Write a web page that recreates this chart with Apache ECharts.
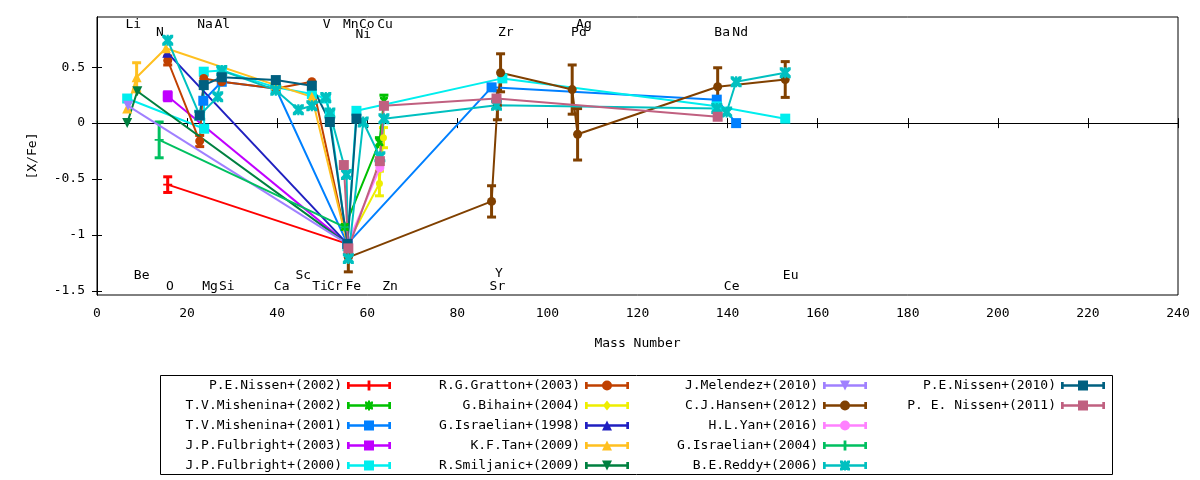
<!DOCTYPE html>
<html>
<head>
<meta charset="utf-8">
<title>[X/Fe] vs Mass Number</title>
<script src="https://cdn.jsdelivr.net/npm/echarts@6/dist/echarts.min.js"></script>
<style>
  html, body { margin: 0; padding: 0; background: #fff; }
  #chart { width: 1200px; height: 480px; }
</style>
</head>
<body>
<div id="chart"></div>
<script>
// each point: [mass number, [X/Fe], error]
const nissen2002 = [[15.7, -0.55, 0.07], [55.6, -1.08, 0]];
const mishenina2002 = [[55.0, -0.93, 0], [62.7, -0.17, 0.04], [63.7, 0.20, 0.05]];
const mishenina2001 = [[23.6, 0.20, 0], [27.7, 0.37, 0], [39.7, 0.31, 0], [55.6, -1.08, 0], [87.6, 0.32, 0], [137.6, 0.21, 0], [141.9, 0.00, 0]];
const fulbright2003 = [[15.7, 0.24, 0.04], [55.6, -1.08, 0]];
const fulbright2000 = [[6.7, 0.22, 0], [23.8, -0.05, 0], [23.7, 0.46, 0], [27.7, 0.47, 0], [39.7, 0.32, 0], [47.7, 0.26, 0], [50.8, 0.22, 0], [51.7, 0.07, 0], [55.6, -1.10, 0], [57.6, 0.11, 0], [90.0, 0.40, 0], [137.6, 0.15, 0], [152.8, 0.04, 0]];
const gratton2003 = [[15.7, 0.56, 0.04], [22.8, -0.16, 0.05], [23.7, 0.40, 0.03], [27.7, 0.37, 0], [39.7, 0.31, 0], [47.7, 0.37, 0], [55.6, -1.08, 0]];
const bihain2004 = [[55.6, -1.08, 0], [62.7, -0.54, 0.11], [63.6, -0.13, 0.09]];
const israelian1998 = [[15.6, 0.63, 0], [55.6, -1.08, 0]];
const tan2009 = [[6.7, 0.13, 0], [8.8, 0.41, 0.13], [15.3, 0.67, 0], [39.7, 0.34, 0], [47.7, 0.235, 0], [55.6, -1.08, 0]];
const smiljanic2009 = [[6.7, 0.00, 0], [8.95, 0.285, 0], [55.6, -1.08, 0]];
const melendez2010 = [[6.9, 0.155, 0], [55.6, -1.08, 0]];
const hansen2012 = [[55.8, -1.20, 0.13], [87.6, -0.70, 0.14], [88.9, 0.16, 0.13], [89.6, 0.45, 0.17], [105.5, 0.30, 0.22], [106.7, -0.10, 0.23], [137.8, 0.325, 0.17], [152.8, 0.39, 0.16]];
const yan2016 = [[55.6, -1.08, 0], [62.8, -0.40, 0]];
const israelian2004 = [[13.8, -0.15, 0.16], [55.0, -0.93, 0]];
const reddy2006 = [[15.7, 0.74, 0], [22.8, 0.07, 0], [26.8, 0.235, 0], [27.7, 0.47, 0], [39.7, 0.295, 0], [44.7, 0.12, 0], [47.7, 0.155, 0], [50.8, 0.23, 0], [51.7, 0.09, 0], [55.4, -0.46, 0], [55.8, -1.21, 0], [59.1, 0.01, 0], [62.8, -0.30, 0], [63.7, 0.04, 0], [88.7, 0.16, 0], [137.6, 0.13, 0], [139.8, 0.10, 0], [141.9, 0.37, 0], [152.8, 0.45, 0]];
const nissen2010 = [[22.8, 0.07, 0], [23.7, 0.34, 0], [27.7, 0.41, 0], [39.7, 0.385, 0], [47.7, 0.335, 0], [51.7, 0.01, 0], [55.6, -1.08, 0], [57.6, 0.04, 0]];
const nissen2011 = [[54.8, -0.375, 0], [55.8, -1.12, 0], [62.8, -0.34, 0], [63.7, 0.155, 0], [88.7, 0.22, 0], [137.8, 0.057, 0]];

// element name labels: text, mass position, [X/Fe] position
const elementNames = ['Li', 'Be', 'N', 'O', 'Na', 'Mg', 'Al', 'Si', 'Ca', 'Sc', 'Ti', 'V', 'Cr', 'Mn', 'Fe', 'Co', 'Ni', 'Cu', 'Zn', 'Sr', 'Y', 'Zr', 'Pd', 'Ag', 'Ba', 'Ce', 'Nd', 'Eu'];
const elementMass = [8.06, 9.92, 13.99, 16.2, 23.98, 25.1, 27.82, 28.8, 41.0, 45.8, 49.5, 51.0, 52.8, 56.33, 56.9, 59.88, 59.13, 63.94, 65.05, 88.9, 89.25, 90.74, 107.0, 108.1, 138.8, 140.9, 142.8, 154.0];
const elementLevel = [0.879, -1.363, 0.805, -1.461, 0.879, -1.461, 0.879, -1.461, -1.461, -1.363, -1.461, 0.879, -1.461, 0.879, -1.461, 0.879, 0.79, 0.879, -1.461, -1.461, -1.342, 0.805, 0.805, 0.879, 0.805, -1.461, 0.805, -1.363];

const yTicks = [-1.5, -1, -0.5, 0, 0.5];

const FONT = 'DejaVu Sans Mono';

// marker shapes (plot symbol + legend icon centre piece)
const marks = {
  plus:   { symbol: 'path://M4,0H6V4H10V6H6V10H4V6H0V4H4Z', size: 9, icon: 'M20.6,0H23.4V10H20.6Z' },
  cross:  { symbol: 'path://M0,0H2.5L5,2.5L7.5,0H10V2.5L7.5,5L10,7.5V10H7.5L5,7.5L2.5,10H0V7.5L2.5,5L0,2.5Z', size: 8,
            icon: 'M18,1H20L22,3L24,1H26V3L24,5L26,7V9H24L22,7L20,9H18V7L20,5L18,3ZM21,0H23V10H21Z' },
  square: { symbol: 'rect', size: 10, icon: 'M17,0H27V10H17Z' },
  circle: { symbol: 'circle', size: 9, icon: 'M17,5A5,5 0 1,1 27,5A5,5 0 1,1 17,5Z' },
  dot:    { symbol: 'circle', size: 7, icon: 'M18,5L22,0L26,5L22,10Z' },
  up:     { symbol: 'triangle', size: 10, icon: 'M22,0L27,10H17Z' },
  down:   { symbol: 'path://M0,0H10L5,10Z', size: 10, icon: 'M17,0H27L22,10Z' },
  star:   { symbol: 'path://M0,0H2.5L5,2.5L7.5,0H10V2.5L7.5,5L10,7.5V10H7.5L5,7.5L2.5,10H0V7.5L2.5,5L0,2.5ZM4,0H6V10H4Z', size: 11,
            icon: 'M17,0H19.5L22,2.5L24.5,0H27V2.5L24.5,5L27,7.5V10H24.5L22,7.5L19.5,10H17V7.5L19.5,5L17,2.5ZM21,0H23V10H21Z' }
};
// horizontal line with two end caps
const iconBase = 'M0,1.5H2.7V8.5H0ZM41.3,1.5H44V8.5H41.3ZM0,3.8H44V6.2H0Z';

const studies = [
  { name: 'P.E.Nissen+(2002)',    data: nissen2002,    color: '#ff0000', mark: 'plus' },
  { name: 'T.V.Mishenina+(2002)', data: mishenina2002, color: '#00c000', mark: 'cross' },
  { name: 'T.V.Mishenina+(2001)', data: mishenina2001, color: '#0080ff', mark: 'square' },
  { name: 'J.P.Fulbright+(2003)', data: fulbright2003, color: '#c000ff', mark: 'square' },
  { name: 'J.P.Fulbright+(2000)', data: fulbright2000, color: '#00eeee', mark: 'square' },
  { name: 'R.G.Gratton+(2003)',   data: gratton2003,   color: '#c04000', mark: 'circle' },
  { name: 'G.Bihain+(2004)',      data: bihain2004,    color: '#eeee00', mark: 'dot' },
  { name: 'G.Israelian+(1998)',   data: israelian1998, color: '#2020c0', mark: 'up' },
  { name: 'K.F.Tan+(2009)',       data: tan2009,       color: '#ffc020', mark: 'up' },
  { name: 'R.Smiljanic+(2009)',   data: smiljanic2009, color: '#008040', mark: 'down' },
  { name: 'J.Melendez+(2010)',    data: melendez2010,  color: '#a080ff', mark: 'down' },
  { name: 'C.J.Hansen+(2012)',    data: hansen2012,    color: '#804000', mark: 'circle' },
  { name: 'H.L.Yan+(2016)',       data: yan2016,       color: '#ff80ff', mark: 'circle' },
  { name: 'G.Israelian+(2004)',   data: israelian2004, color: '#00c060', mark: 'plus' },
  { name: 'B.E.Reddy+(2006)',     data: reddy2006,     color: '#00c0c0', mark: 'star' },
  { name: 'P.E.Nissen+(2010)',    data: nissen2010,    color: '#006080', mark: 'square' },
  { name: 'P. E. Nissen+(2011)',  data: nissen2011,    color: '#c06080', mark: 'square' }
];

// key columns: which studies, and where the icons end on the right
const keyColumns = [
  { from: 0,  to: 5,  right: 809 },
  { from: 5,  to: 10, right: 571 },
  { from: 10, to: 15, right: 333 },
  { from: 15, to: 17, right: 95 }
];

const seriesList = [];

// element names (drawn first, behind the data)
seriesList.push({
  type: 'scatter',
  name: 'elements',
  data: elementNames.map((n, i) => ({ name: n, value: [elementMass[i], elementLevel[i]] })),
  symbol: 'circle',
  symbolSize: 1,
  itemStyle: { color: 'rgba(255,255,255,0)' },
  silent: true,
  animation: false,
  label: {
    show: true,
    position: 'inside',
    formatter: '{b}',
    color: '#000',
    opacity: 1,
    textBorderWidth: 0,
    textBorderColor: 'transparent',
    fontFamily: FONT,
    fontSize: 13
  }
});

studies.forEach(s => {
  const m = marks[s.mark];
  seriesList.push({
    type: 'line',
    name: s.name,
    data: s.data.map(d => [d[0], d[1]]),
    symbol: m.symbol,
    symbolSize: m.size,
    showAllSymbol: true,
    color: s.color,
    lineStyle: { width: 2, color: s.color },
    itemStyle: { color: s.color, borderWidth: 0 },
    emphasis: { disabled: true },
    silent: true,
    animation: false
  });
  const withErr = s.data.filter(d => d[2] > 0);
  if (withErr.length) {
    seriesList.push({
      type: 'custom',
      name: s.name,
      data: withErr,
      encode: { x: 0, y: 1 },
      silent: true,
      animation: false,
      renderItem: (params, api) => {
        const x = api.value(0), y = api.value(1), e = api.value(2);
        const hi = api.coord([x, y + e]);
        const lo = api.coord([x, y - e]);
        const st = { stroke: s.color, lineWidth: 3 };
        return {
          type: 'group',
          children: [
            { type: 'line', shape: { x1: hi[0], y1: hi[1], x2: lo[0], y2: lo[1] }, style: st },
            { type: 'line', shape: { x1: hi[0] - 4.5, y1: hi[1], x2: hi[0] + 4.5, y2: hi[1] }, style: st },
            { type: 'line', shape: { x1: lo[0] - 4.5, y1: lo[1], x2: lo[0] + 4.5, y2: lo[1] }, style: st }
          ]
        };
      }
    });
  }
});

const chart = echarts.init(document.getElementById('chart'), null, { renderer: 'canvas' });

const tickStyle = { inside: true, length: 5, lineStyle: { color: '#000', width: 1 } };

chart.setOption({
  animation: false,
  backgroundColor: '#fff',
  textStyle: { fontFamily: FONT },
  grid: {
    left: 97, right: 22, top: 17, bottom: 185,
    show: true, borderColor: '#000', borderWidth: 1, backgroundColor: 'transparent'
  },
  xAxis: [
    {
      type: 'value', min: 0, max: 240, interval: 20,
      name: 'Mass Number', nameLocation: 'middle', nameGap: 42,
      nameTextStyle: { fontFamily: FONT, fontSize: 13, color: '#000' },
      axisLine: { show: true, lineStyle: { color: '#000' } },
      axisTick: tickStyle,
      axisLabel: { fontFamily: FONT, fontSize: 13, color: '#000', margin: 12 },
      splitLine: { show: false }
    },
    {
      type: 'value', position: 'top', min: 0, max: 240, interval: 20,
      axisLine: { show: true, lineStyle: { color: '#000' } },
      axisTick: tickStyle,
      axisLabel: { show: false },
      splitLine: { show: false }
    }
  ],
  yAxis: [
    {
      type: 'value', min: -1.537, max: 0.949,
      name: '[X/Fe]', nameLocation: 'middle', nameGap: 58, nameRotate: 90,
      nameTextStyle: { fontFamily: FONT, fontSize: 13, color: '#000' },
      axisLine: { show: true, lineStyle: { color: '#000' } },
      axisTick: Object.assign({ customValues: yTicks }, tickStyle),
      axisLabel: { customValues: yTicks, fontFamily: FONT, fontSize: 13, color: '#000', margin: 12 },
      splitLine: { show: false }
    },
    {
      type: 'value', position: 'right', min: -1.537, max: 0.949,
      axisLine: { show: true, lineStyle: { color: '#000' } },
      axisTick: Object.assign({ customValues: yTicks }, tickStyle),
      axisLabel: { show: false },
      splitLine: { show: false }
    }
  ],
  legend: keyColumns.map(col => ({
    orient: 'vertical',
    align: 'right',
    right: col.right,
    top: 379,
    padding: 0,
    itemWidth: 44,
    itemHeight: 10,
    itemGap: 7,
    selectedMode: false,
    itemStyle: { borderWidth: 0 },
    textStyle: { fontFamily: FONT, fontSize: 13, color: '#000' },
    data: studies.slice(col.from, col.to).map(s => ({
      name: s.name,
      icon: 'path://' + iconBase + marks[s.mark].icon
    }))
  })),
  graphic: [
    {
      type: 'rect',
      shape: { x: 160.5, y: 375.5, width: 952, height: 99 },
      style: { fill: 'none', stroke: '#000', lineWidth: 1 },
      silent: true
    }
  ],
  series: seriesList
});
</script>
</body>
</html>
